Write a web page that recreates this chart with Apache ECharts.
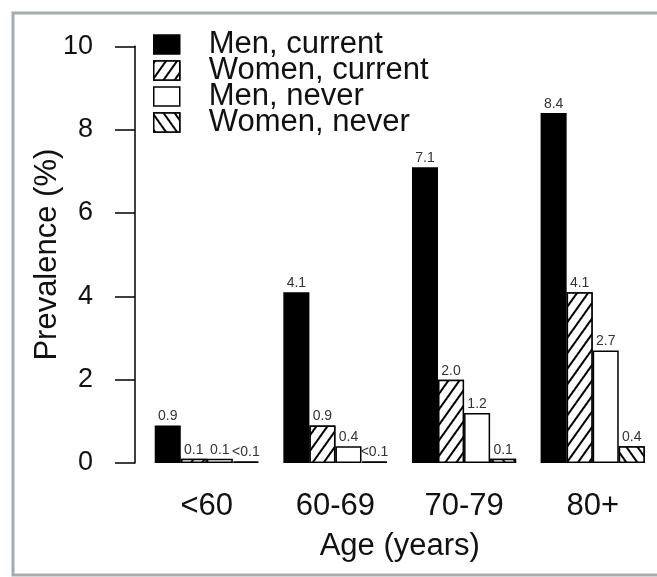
<!DOCTYPE html>
<html>
<head>
<meta charset="utf-8">
<script src="https://cdn.jsdelivr.net/npm/echarts@6/dist/echarts.min.js"></script>
<style>
  html, body { margin: 0; padding: 0; background: #fff; }
  #chart { width: 657px; height: 577px; }
</style>
</head>
<body>
<div id="chart"></div>
<script>
; (function () {
  const ageGroups = ['<60', '60-69', '70-79', '80+']
  const menCurrent = [0.9, 4.1, 7.1, 8.4]
  const womenCurrent = [0.1, 0.9, 2.0, 4.1]
  const menNever = [0.1, 0.4, 1.2, 2.7]
  const womenNever = [0.03, 0.03, 0.1, 0.4]
  const womenNeverLabels = ['<0.1', '<0.1', '0.1', '0.4']
  const yTicks = [0, 2, 4, 6, 8, 10]

  const font = 'Liberation Sans, Arial, sans-serif'
  const myChart = echarts.init(document.getElementById('chart'))

  // hatch fill, like R's density/angle
  function hatch (angle) {
    return {
      symbol: 'rect',
      symbolSize: 1,
      dashArrayX: [1, 0],
      dashArrayY: [2, 7],
      rotation: angle,
      color: '#000',
      backgroundColor: '#fff'
    }
  }

  function barSeries (name, data, color, decal, labels) {
    return {
      name: name,
      type: 'bar',
      data: data,
      barGap: '0%',
      barCategoryGap: '19%',
      itemStyle: {
        color: color,
        borderColor: '#000',
        borderWidth: 1.5,
        decal: decal
      },
      label: {
        show: true,
        position: 'top',
        distance: 2,
        fontFamily: font,
        fontSize: 14,
        color: '#333',
        formatter: function (p) {
          return labels ? labels[p.dataIndex] : p.value.toFixed(1)
        }
      },
      emphasis: { disabled: true }
    }
  }

  const option = {
    animation: false,
    backgroundColor: '#fff',
    textStyle: { fontFamily: font },
    graphic: [{
      type: 'rect',
      shape: { x: 13, y: 13, width: 700, height: 562 },
      style: { fill: 'none', stroke: '#a3abab', lineWidth: 3 },
      silent: true
    }],
    legend: {
      orient: 'vertical',
      left: 153,
      top: 29,
      padding: 0,
      itemWidth: 26,
      itemHeight: 19,
      itemGap: -5,
      icon: 'rect',
      selectedMode: false,
      itemStyle: { borderColor: '#000', borderWidth: 1.5 },
      textStyle: {
        fontFamily: font,
        fontSize: 31,
        lineHeight: 25,
        color: '#111',
        padding: [0, 0, 0, 24]
      }
    },
    grid: {
      left: 142.5,
      top: 46.3,
      width: 520,
      height: 416.7,
      containLabel: false
    },
    xAxis: {
      type: 'category',
      data: ageGroups,
      name: 'Age (years)',
      nameLocation: 'middle',
      nameGap: 68,
      nameMoveOverlap: false,
      nameTextStyle: { fontFamily: font, fontSize: 31, color: '#111' },
      axisLine: { show: false },
      axisTick: { show: false },
      axisLabel: {
        fontFamily: font,
        fontSize: 31,
        color: '#111',
        margin: 28
      }
    },
    yAxis: {
      type: 'value',
      min: yTicks[0],
      max: yTicks[yTicks.length - 1],
      interval: 2,
      offset: 7.5,
      name: 'Prevalence (%)',
      nameLocation: 'middle',
      nameGap: 72,
      nameMoveOverlap: false,
      nameTextStyle: { fontFamily: font, fontSize: 31, color: '#111' },
      splitLine: { show: false },
      axisLine: { show: true, lineStyle: { color: '#000', width: 1.5 } },
      axisTick: { show: true, length: 20, lineStyle: { color: '#000', width: 1.5 } },
      axisLabel: {
        fontFamily: font,
        fontSize: 27,
        color: '#111',
        margin: 42
      }
    },
    series: [
      barSeries('Men, current', menCurrent, '#000', null),
      barSeries('Women, current', womenCurrent, '#fff', hatch(-Math.PI / 3.3)),
      barSeries('Men, never', menNever, '#fff', null),
      barSeries('Women, never', womenNever, '#fff', hatch(Math.PI / 3.3), womenNeverLabels)
    ]
  }

  myChart.setOption(option)
  window.addEventListener('resize', function () {
    myChart.resize()
  })
})()
</script>
</body>
</html>
